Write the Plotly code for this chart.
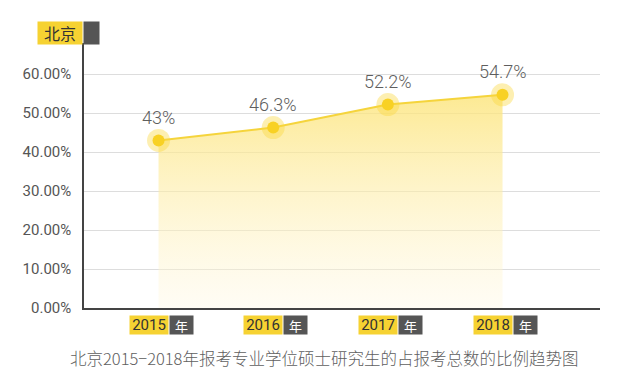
import plotly.graph_objects as go

years = [2015, 2016, 2017, 2018]
values = [0.43, 0.463, 0.522, 0.547]
value_labels = ["43%", "46.3%", "52.2%", "54.7%"]
tick_vals = [0, 0.1, 0.2, 0.3, 0.4, 0.5, 0.6]
region_label = "北京"
year_suffix = "年"
title_text = "北京2015−2018年报考专业学位硕士研究生的占报考总数的比例趋势图"

FONT = "Noto Sans CJK SC, Roboto, sans-serif"
NUMFONT = "Roboto, Noto Sans, sans-serif"
YELLOW = "#F6D232"
DARK = "#555555"

fig = go.Figure()

# gradient area
fig.add_trace(go.Scatter(
    x=years, y=values, mode="lines",
    line=dict(color="#F5D43C", width=2),
    fill="tozeroy",
    fillgradient=dict(type="vertical",
                      colorscale=[[0, "rgba(255,248,225,0.35)"],
                                  [1, "rgba(252,228,120,0.8)"]]),
    hoverinfo="skip", showlegend=False,
))
# halo
fig.add_trace(go.Scatter(
    x=years, y=values, mode="markers",
    marker=dict(size=23, color="rgba(250,216,60,0.4)", line=dict(width=0)),
    hoverinfo="skip", showlegend=False, cliponaxis=False,
))
# points
fig.add_trace(go.Scatter(
    x=years, y=values, mode="markers",
    marker=dict(size=12, color="#F8D124", line=dict(width=0)),
    showlegend=False, cliponaxis=False,
))

annotations = []
for yr, v, lab in zip(years, values, value_labels):
    annotations.append(dict(x=yr, y=v, xref="x", yref="y", text=lab,
                            showarrow=False, yanchor="middle", yshift=23,
                            font=dict(family=NUMFONT, size=18, color="#5e5e5e", weight=300)))
    annotations.append(dict(x=yr, y=0, xref="x", yref="paper", text=str(yr),
                            showarrow=False, xanchor="right", yanchor="top",
                            xshift=10, yshift=-7, width=36, height=16, borderpad=1,
                            bgcolor=YELLOW,
                            font=dict(family=NUMFONT, size=15, color="#333333")))
    annotations.append(dict(x=yr, y=0, xref="x", yref="paper", text=year_suffix,
                            showarrow=False, xanchor="left", yanchor="top",
                            xshift=10, yshift=-7, width=21, height=16, borderpad=1,
                            bgcolor=DARK,
                            font=dict(family=FONT, size=13, color="#ffffff")))

# region label top-left
annotations.append(dict(x=0, y=1, xref="paper", yref="paper", text=region_label,
                        showarrow=False, xanchor="right", yanchor="top",
                        xshift=-1, yshift=22, width=42, height=20, borderpad=1,
                        bgcolor=YELLOW,
                        font=dict(family=FONT, size=16, color="#333333")))
annotations.append(dict(x=0, y=1, xref="paper", yref="paper", text="",
                        showarrow=False, xanchor="left", yanchor="top",
                        xshift=-1, yshift=22, width=13, height=20, borderpad=1,
                        bgcolor=DARK))
# title at bottom
annotations.append(dict(x=0.5, y=0, xref="paper", yref="paper", text=title_text,
                        showarrow=False, xanchor="center", yanchor="middle",
                        yshift=-50, xshift=-18,
                        font=dict(family=FONT, size=16.5, color="#606060", weight=300)))

fig.update_layout(
    width=631, height=381,
    margin=dict(l=84, r=31, t=43, b=73),
    paper_bgcolor="white", plot_bgcolor="white",
    annotations=annotations,
    xaxis=dict(range=[2014.35, 2018.85], showgrid=False, zeroline=False,
               showticklabels=False, ticks="", showline=True,
               linecolor="#444444", linewidth=1.5, fixedrange=True),
    yaxis=dict(range=[0, 0.68], tickvals=tick_vals, tickformat=".2%",
               showgrid=True, gridcolor="#dddddd", gridwidth=1,
               zeroline=False, showline=True, linecolor="#444444", linewidth=1.5,
               ticks="", ticklabelstandoff=8,
               tickfont=dict(family=NUMFONT, size=15, color="#555555"),
               fixedrange=True),
)

fig.write_html("out.html", config={"displayModeBar": False},
               post_script="document.body.style.margin='0';document.body.style.overflow='hidden';")
